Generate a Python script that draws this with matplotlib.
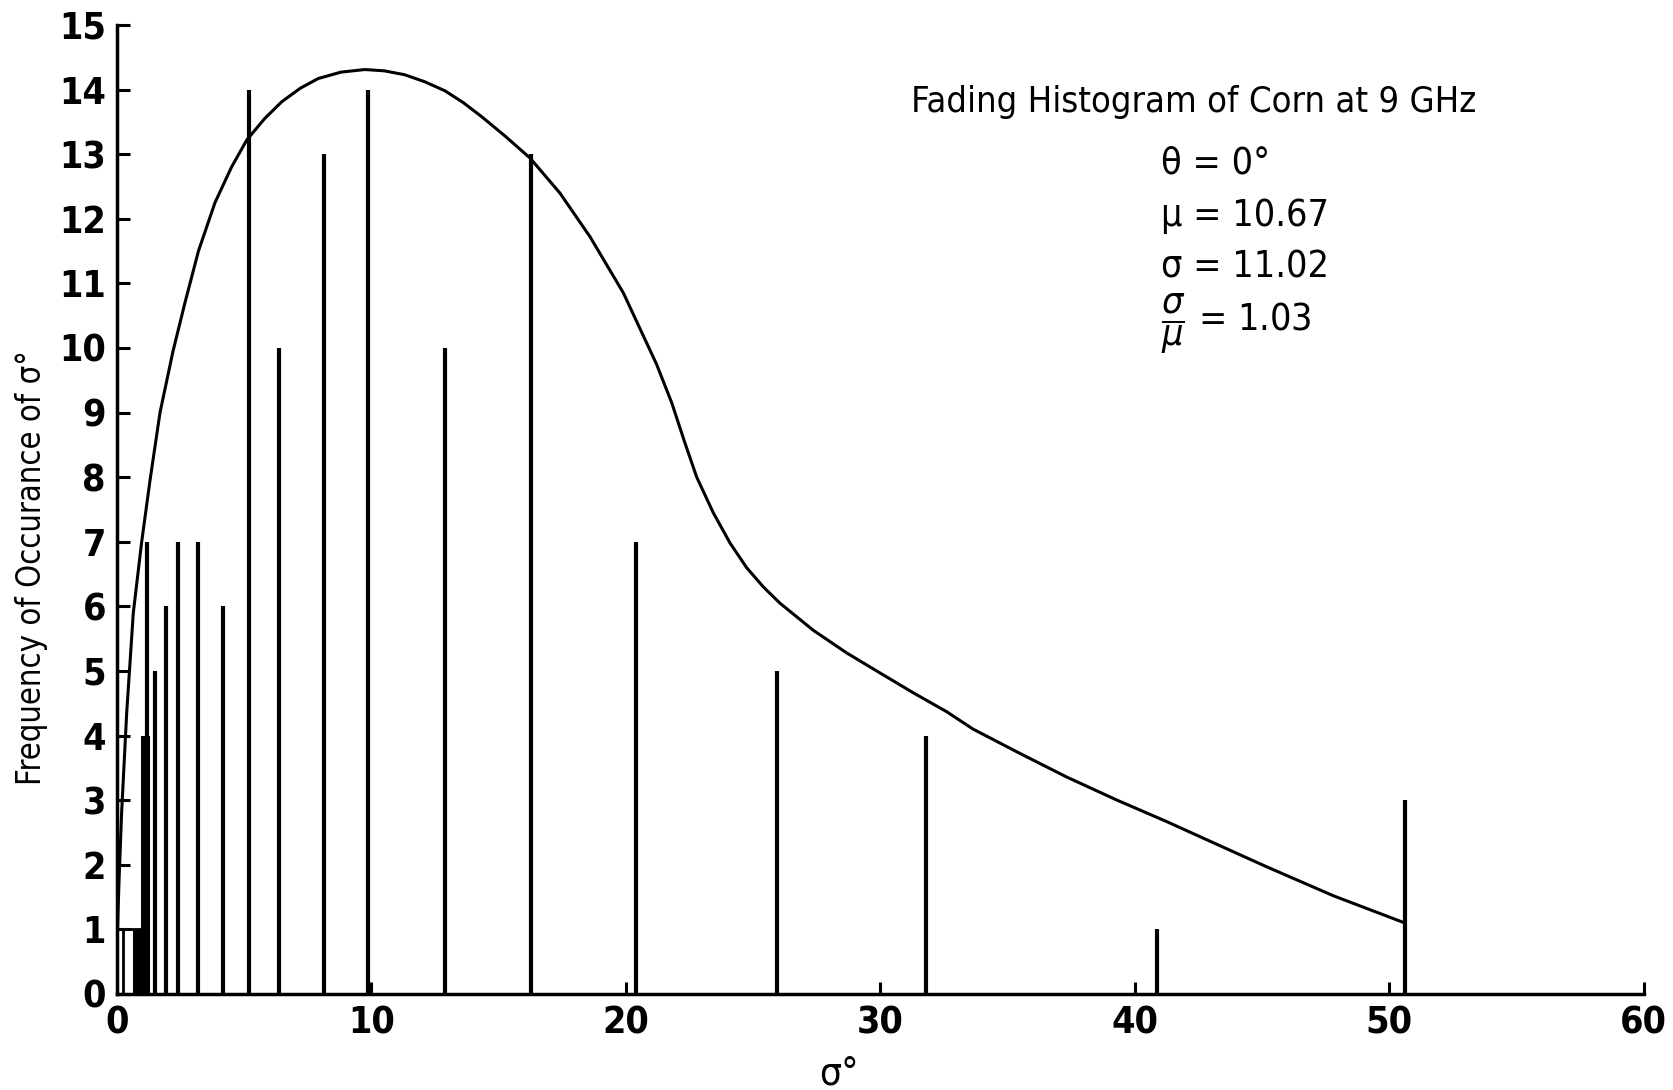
import matplotlib.pyplot as plt
import numpy as np

plt.rcParams['font.family'] = ['DejaVu Sans']
plt.rcParams['font.stretch'] = 'condensed'
plt.rcParams['mathtext.fontset'] = 'dejavusans'

# histogram spikes (sigma0 value, count)
bar_x = [1.18, 1.49, 1.92, 2.41, 3.17, 4.15, 5.19, 6.37, 8.13, 9.85,
         12.89, 16.25, 20.38, 25.93, 31.8, 40.87, 50.6]
bar_h = [7, 5, 6, 7, 7, 6, 14, 10, 13, 14, 10, 13, 7, 5, 4, 1, 3]

# the crowded bins near zero
box_left, box_right, box_h = 0.22, 0.95, 1
fill_left, fill_right, fill_h = 0.63, 1.3, 1
wide_left, wide_right, wide_h = 0.94, 1.3, 4

# fitted density curve
curve_x = [0.02, 0.08, 0.18, 0.38, 0.64, 0.97, 1.3, 1.69, 2.2, 2.67, 3.2, 3.85,
           4.5, 5.1, 5.8, 6.47, 7.2, 7.9, 8.8, 9.74, 10.5, 11.3, 12.1, 12.89,
           13.6, 14.33, 15.25, 16.23, 17.4, 18.59, 19.9, 21.2, 21.8, 22.3, 22.78,
           23.43, 24.09, 24.74, 25.4, 26.05, 27.36, 28.67, 29.98, 31.3, 32.6,
           33.64, 35.5, 37.31, 39.3, 41.24, 43.2, 45.17, 47.8, 50.6]
curve_y = [1.0, 1.76, 2.8, 4.35, 5.9, 7.0, 7.96, 9.0, 9.95, 10.7, 11.5, 12.25,
           12.8, 13.22, 13.55, 13.81, 14.02, 14.17, 14.27, 14.31, 14.29, 14.23, 14.12, 13.98,
           13.8, 13.58, 13.28, 12.94, 12.4, 11.72, 10.85, 9.75, 9.15, 8.55, 8.0,
           7.45, 6.98, 6.6, 6.3, 6.05, 5.63, 5.28, 4.97, 4.66, 4.37,
           4.1, 3.72, 3.36, 3.0, 2.67, 2.32, 1.97, 1.52, 1.1]

tick_x = [0, 10, 20, 30, 40, 50, 60]
tick_y = list(range(16))

fig = plt.figure(figsize=(16.74, 10.9), dpi=100)
ax = fig.add_axes([0.0699, 0.0881, 0.9121, 0.889])

lw_bar = 3.0
ax.vlines(bar_x, 0, bar_h, color='black', lw=lw_bar)
ax.bar(box_left, box_h, width=box_right - box_left, align='edge',
       facecolor='white', edgecolor='black', lw=2)
ax.bar(fill_left, fill_h, width=fill_right - fill_left, align='edge',
       color='black', lw=0)
ax.bar(wide_left, wide_h, width=wide_right - wide_left, align='edge',
       color='black', lw=0)

ax.plot(curve_x, curve_y, color='black', lw=2.2)

ax.set_xlim(0, 60)
ax.set_ylim(0, 15)
ax.spines['top'].set_visible(False)
ax.spines['right'].set_visible(False)
ax.spines['left'].set_linewidth(2.5)
ax.spines['bottom'].set_linewidth(2.5)
ax.set_xticks(tick_x)
ax.set_yticks(tick_y)
ax.tick_params(direction='in', length=9, width=2.2, labelsize=27, pad=8)
for lab in ax.get_xticklabels() + ax.get_yticklabels():
    lab.set_fontweight('bold')

ax.set_xlabel('σ°', fontsize=28, labelpad=6)
ax.xaxis.set_label_coords(0.473, -0.062)
ax.set_ylabel('Frequency of Occurance of σ°', fontsize=23.5, labelpad=14)
ax.yaxis.set_label_coords(-0.045, 0.44)

ax.text(0.705, 0.92, 'Fading Histogram of Corn at 9 GHz', transform=ax.transAxes,
        fontsize=26, ha='center', va='center')
info_x = 0.684
ax.text(info_x, 0.857, 'θ = 0°', transform=ax.transAxes, fontsize=27, va='center')
ax.text(info_x, 0.803, 'μ = 10.67', transform=ax.transAxes, fontsize=27, va='center')
ax.text(info_x, 0.750, 'σ = 11.02', transform=ax.transAxes, fontsize=27, va='center')
ax.text(info_x, 0.692, r'$\dfrac{\sigma}{\mu}$ = 1.03', transform=ax.transAxes,
        fontsize=27, va='center')

fig.savefig('out.png', dpi=100)
